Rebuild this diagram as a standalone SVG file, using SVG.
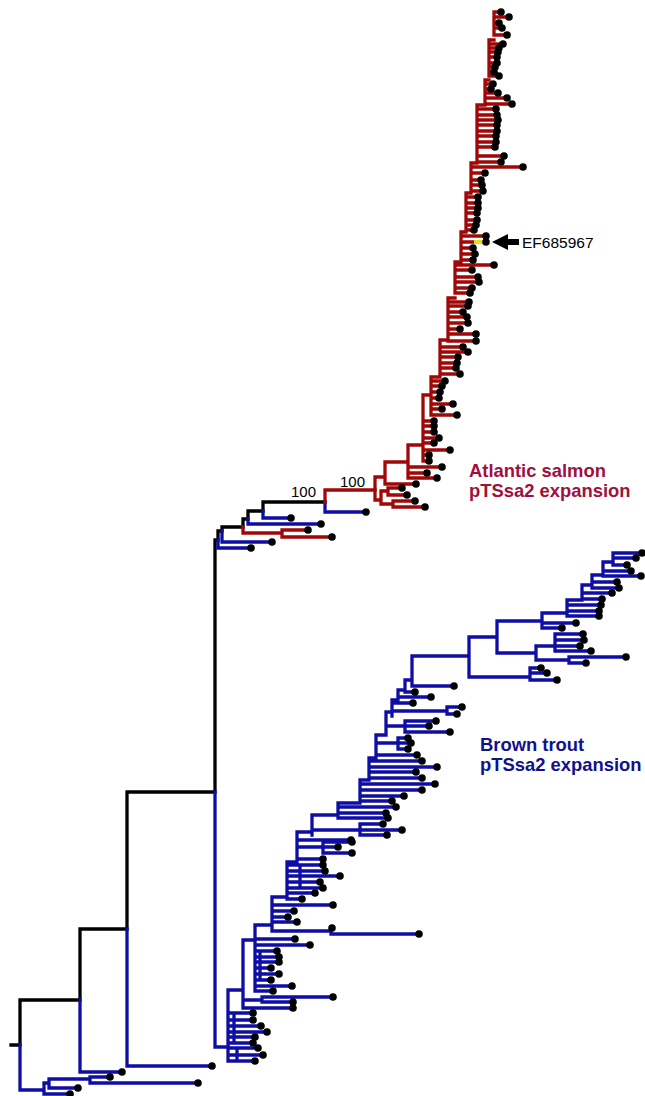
<svg xmlns="http://www.w3.org/2000/svg" width="645" height="1096" viewBox="0 0 645 1096">
<style>
.k,.r,.b,.y{fill:none;stroke-width:3.3;stroke-linecap:square;stroke-linejoin:miter}
.k{stroke:#000}
.r{stroke:#a00808}
.b{stroke:#0e0ea6}
.y{stroke:#e6dc1e;stroke-width:4;stroke-linecap:butt}
.d circle{fill:#000}
text{font-family:"Liberation Sans",Arial,sans-serif}
.lab{font-weight:bold;font-size:18.4px}
.sal{fill:#a0103e}
.tro{fill:#11118c}
.bs{font-size:15px;fill:#000}
</style>
<rect width="645" height="1096" fill="#fff"/>
<g id="connectors">
  <g id="backbone">
    <path class="k" d="M11 1045H20V1000H80V929H127V792H215V540H218V531H222V527H243V519H248V511H263V502H325"/>
  </g>
  <g id="basal-branches">
    <path class="b" d="M20 1045V1090H44 M44 1083V1094 M44 1083H49 M49 1079V1088 M49 1079H90 M90 1077V1083 M90 1077H110 M90 1083H198 M49 1088H78 M44 1094H70 M80 1000V1072H122 M127 929V1066H212 M215 792V1047H228 M218 540V548H251 M222 531V542H272 M248 519V524H321 M263 511V518H291 M325 502V512H366"/>
    <path class="r" d="M243 527V533H282 M282 530V537 M282 530H308 M282 537H332 M325 502V490H375"/>
  </g>
  <g id="salmon-branches">
    <path class="r" d="M375 477V500 M375 500H381 M381 491V504 M381 491H388 M388 488V495 M388 488H402 M388 495H407 M381 504H393 M393 501V507 M393 501H415 M393 507H425 M375 477H385
    M385 462V484 M385 484H416 M385 462H408
    M408 445V478 M408 467H442 M408 473H427 M408 478H437 M408 445H423
    M423 395V461 M423 421H434 M423 426H434 M423 432H434 M423 438H439 M423 443H434 M423 450H450 M423 455H429 M423 461H429 M423 395H431
    M431 377V415 M431 381H445 M431 386H442 M431 392H440 M431 398H439 M431 404H453 M431 409H442 M431 415H457 M431 377H440
    M440 340V374 M440 347H463 M440 352H468 M440 357H458 M440 363H457 M440 368H456 M440 374H460 M440 340H448
    M448 298V341 M448 302H469 M448 306H468 M448 312H463 M448 317H467 M448 323H468 M448 329H460 M448 334H476 M448 341H476 M448 298H455
    M455 262V293 M455 265H494 M455 270H472 M455 277H478 M455 282H479 M455 288H472 M455 293H470 M455 262H461
    M461 232V260 M461 236H486 M461 242H474 M461 248H473 M461 254H475 M461 260H473 M461 232H466
    M466 193V230 M466 197H478 M466 203H478 M466 208H478 M466 213H477 M466 220H477 M466 225H476 M466 230H474 M466 193H471
    M471 163V191 M471 167H523 M471 173H485 M471 180H481 M471 185H482 M471 191H483 M471 163H477
    M477 105V162 M477 109H496 M477 115H497 M477 120H498 M477 125H497 M477 131H497 M477 136H496 M477 142H496 M477 147H495 M477 156H504 M477 162H501 M477 105H485
    M485 80V104 M485 84H493 M485 89H491 M485 93H498 M485 98H507 M485 104H512 M485 80H489
    M489 40V76 M489 44H503 M489 48H499 M489 52H498 M489 57H497 M489 63H497 M489 67H495 M489 72H494 M489 76H499 M489 40H494
    M494 12V35 M494 12H501 M494 17H509 M494 23H499 M494 28H502 M494 35H507"/>
    <path class="y" d="M474 242H484"/>
  </g>
  <g id="trout-branches">
    <path class="b" d="M228 990V1061 M228 1013H253 M228 1020H253 M228 1026H261 M228 1032H267 M228 1037H255 M228 1043H253 M228 1048H258 M228 1055H263 M228 1061H255 M234 1013V1043 M237 1048V1061 M228 990H243
    M243 940V1008 M243 1000H262 M262 997V1002 M262 997H333 M262 1002H293 M243 1008H293 M243 940H255
    M255 925V991 M255 939H295 M255 945H310 M255 951H277 M255 957H279 M255 962H279 M255 968H271 M255 974H279 M255 980H271 M255 986H292 M255 991H273 M260 951V980 M255 925H272
    M272 897V931 M272 905H333 M272 911H294 M272 917H288 M272 922H297 M272 931H331 M331 928V934 M331 934H419 M272 897H287
    M287 862V899 M287 865H323 M287 871H325 M287 876H340 M287 882H320 M287 888H323 M287 893H315 M287 899H302 M300 865V888 M287 862H297
    M297 832V859 M297 859H323 M297 847H323 M323 842V853 M323 842H352 M323 847H338 M323 853H352 M297 840H351 M297 832H312
    M312 815V835 M312 830H360 M360 824V835 M360 824H383 M360 830H402 M360 835H387 M312 815H338
    M338 803V818 M338 807H396 M338 813H386 M338 818H388 M338 803H360
    M360 780V801 M360 784H435 M360 790H422 M360 796H404 M360 801H392 M360 780H369
    M369 758V778 M369 761H422 M369 767H437 M369 772H416 M369 778H422 M369 758H376
    M376 735V755 M376 755H417 M376 743H398 M398 738V749 M398 738H408 M398 743H411 M398 749H408 M376 735H386
    M386 712V735 M386 726H405 M405 721V732 M405 721H436 M405 726H429 M405 732H450 M386 712H392
    M392 700V716 M392 703H413 M392 711H447 M447 707V714 M447 707H462 M447 714H457 M392 700H398
    M398 690V703 M398 697H431 M398 690H405
    M405 680V692 M405 692H415 M405 680H412
    M412 656V686 M412 686H454 M412 656H469
    M469 637V677 M469 677H530 M530 668V680 M530 668H541 M530 673H547 M530 680H557 M469 637H497
    M497 621V653 M497 653H536 M536 646V660 M536 646H555 M555 634V651 M555 634H583 M555 640H584 M555 646H580 M555 651H591 M536 660H569 M569 657V663 M569 657H626 M569 663H586 M497 621H542
    M542 613V628 M542 623H576 M542 628H562 M542 613H567
    M567 600V616 M567 605H601 M567 611H599 M567 616H599 M567 600H582
    M582 585V599 M582 593H612 M582 599H602 M582 585H592
    M592 575V588 M592 582H617 M592 588H619 M592 575H603
    M603 562V576 M603 571H631 M603 576H641 M603 562H613
    M613 553V565 M613 553H642 M613 558H636 M613 565H627"/>
  </g>
</g>
<g id="leaves" class="d">
  <g id="basal-leaves">
    <circle cx="110" cy="1077" r="3.8"/><circle cx="198" cy="1083" r="3.8"/><circle cx="78" cy="1088" r="3.8"/><circle cx="70" cy="1094" r="3.8"/><circle cx="122" cy="1072" r="3.8"/><circle cx="212" cy="1066" r="3.8"/><circle cx="251" cy="548" r="3.8"/><circle cx="272" cy="542" r="3.8"/><circle cx="321" cy="524" r="3.8"/><circle cx="291" cy="518" r="3.8"/><circle cx="366" cy="512" r="3.8"/><circle cx="308" cy="530" r="3.8"/><circle cx="332" cy="537" r="3.8"/>
  </g>
  <g id="salmon-leaves">
    <circle cx="402" cy="488" r="3.8"/><circle cx="407" cy="495" r="3.8"/><circle cx="415" cy="501" r="3.8"/><circle cx="425" cy="507" r="3.8"/><circle cx="416" cy="484" r="3.8"/><circle cx="442" cy="467" r="3.8"/><circle cx="427" cy="473" r="3.8"/><circle cx="437" cy="478" r="3.8"/>
    <circle cx="434" cy="421" r="3.8"/><circle cx="434" cy="426" r="3.8"/><circle cx="434" cy="432" r="3.8"/><circle cx="439" cy="438" r="3.8"/><circle cx="434" cy="443" r="3.8"/><circle cx="450" cy="450" r="3.8"/><circle cx="429" cy="455" r="3.8"/><circle cx="429" cy="461" r="3.8"/>
    <circle cx="445" cy="381" r="3.8"/><circle cx="442" cy="386" r="3.8"/><circle cx="440" cy="392" r="3.8"/><circle cx="439" cy="398" r="3.8"/><circle cx="453" cy="404" r="3.8"/><circle cx="442" cy="409" r="3.8"/><circle cx="457" cy="415" r="3.8"/>
    <circle cx="463" cy="347" r="3.8"/><circle cx="468" cy="352" r="3.8"/><circle cx="458" cy="357" r="3.8"/><circle cx="457" cy="363" r="3.8"/><circle cx="456" cy="368" r="3.8"/><circle cx="460" cy="374" r="3.8"/>
    <circle cx="469" cy="302" r="3.8"/><circle cx="468" cy="306" r="3.8"/><circle cx="463" cy="312" r="3.8"/><circle cx="467" cy="317" r="3.8"/><circle cx="468" cy="323" r="3.8"/><circle cx="460" cy="329" r="3.8"/><circle cx="476" cy="334" r="3.8"/><circle cx="476" cy="341" r="3.8"/>
    <circle cx="494" cy="265" r="3.8"/><circle cx="472" cy="270" r="3.8"/><circle cx="478" cy="277" r="3.8"/><circle cx="479" cy="282" r="3.8"/><circle cx="472" cy="288" r="3.8"/><circle cx="470" cy="293" r="3.8"/>
    <circle cx="486" cy="236" r="3.8"/><circle cx="486" cy="242" r="3.8"/><circle cx="473" cy="248" r="3.8"/><circle cx="475" cy="254" r="3.8"/><circle cx="473" cy="260" r="3.8"/>
    <circle cx="478" cy="197" r="3.8"/><circle cx="478" cy="203" r="3.8"/><circle cx="478" cy="208" r="3.8"/><circle cx="477" cy="213" r="3.8"/><circle cx="477" cy="220" r="3.8"/><circle cx="476" cy="225" r="3.8"/><circle cx="474" cy="230" r="3.8"/>
    <circle cx="523" cy="167" r="3.8"/><circle cx="485" cy="173" r="3.8"/><circle cx="481" cy="180" r="3.8"/><circle cx="482" cy="185" r="3.8"/><circle cx="483" cy="191" r="3.8"/>
    <circle cx="496" cy="109" r="3.8"/><circle cx="497" cy="115" r="3.8"/><circle cx="498" cy="120" r="3.8"/><circle cx="497" cy="125" r="3.8"/><circle cx="497" cy="131" r="3.8"/><circle cx="496" cy="136" r="3.8"/><circle cx="496" cy="142" r="3.8"/><circle cx="495" cy="147" r="3.8"/><circle cx="504" cy="156" r="3.8"/><circle cx="501" cy="162" r="3.8"/>
    <circle cx="493" cy="84" r="3.8"/><circle cx="491" cy="89" r="3.8"/><circle cx="498" cy="93" r="3.8"/><circle cx="507" cy="98" r="3.8"/><circle cx="512" cy="104" r="3.8"/>
    <circle cx="503" cy="44" r="3.8"/><circle cx="499" cy="48" r="3.8"/><circle cx="498" cy="52" r="3.8"/><circle cx="497" cy="57" r="3.8"/><circle cx="497" cy="63" r="3.8"/><circle cx="495" cy="67" r="3.8"/><circle cx="494" cy="72" r="3.8"/><circle cx="499" cy="76" r="3.8"/>
    <circle cx="501" cy="12" r="3.8"/><circle cx="509" cy="17" r="3.8"/><circle cx="499" cy="23" r="3.8"/><circle cx="502" cy="28" r="3.8"/><circle cx="507" cy="35" r="3.8"/>
  </g>
  <g id="trout-leaves">
    <circle cx="253" cy="1013" r="3.8"/><circle cx="253" cy="1020" r="3.8"/><circle cx="261" cy="1026" r="3.8"/><circle cx="267" cy="1032" r="3.8"/><circle cx="255" cy="1037" r="3.8"/><circle cx="253" cy="1043" r="3.8"/><circle cx="258" cy="1048" r="3.8"/><circle cx="263" cy="1055" r="3.8"/><circle cx="255" cy="1061" r="3.8"/>
    <circle cx="333" cy="997" r="3.8"/><circle cx="293" cy="1002" r="3.8"/><circle cx="293" cy="1008" r="3.8"/>
    <circle cx="295" cy="939" r="3.8"/><circle cx="310" cy="945" r="3.8"/><circle cx="277" cy="951" r="3.8"/><circle cx="279" cy="957" r="3.8"/><circle cx="279" cy="962" r="3.8"/><circle cx="271" cy="968" r="3.8"/><circle cx="279" cy="974" r="3.8"/><circle cx="271" cy="980" r="3.8"/><circle cx="292" cy="986" r="3.8"/><circle cx="273" cy="991" r="3.8"/>
    <circle cx="333" cy="905" r="3.8"/><circle cx="294" cy="911" r="3.8"/><circle cx="288" cy="917" r="3.8"/><circle cx="297" cy="922" r="3.8"/><circle cx="332" cy="928" r="3.8"/><circle cx="419" cy="934" r="3.8"/>
    <circle cx="323" cy="865" r="3.8"/><circle cx="325" cy="871" r="3.8"/><circle cx="340" cy="876" r="3.8"/><circle cx="320" cy="882" r="3.8"/><circle cx="323" cy="888" r="3.8"/><circle cx="315" cy="893" r="3.8"/><circle cx="302" cy="899" r="3.8"/>
    <circle cx="323" cy="859" r="3.8"/><circle cx="352" cy="842" r="3.8"/><circle cx="338" cy="847" r="3.8"/><circle cx="352" cy="853" r="3.8"/><circle cx="351" cy="840" r="3.8"/>
    <circle cx="383" cy="824" r="3.8"/><circle cx="402" cy="830" r="3.8"/><circle cx="387" cy="835" r="3.8"/>
    <circle cx="396" cy="807" r="3.8"/><circle cx="386" cy="813" r="3.8"/><circle cx="388" cy="818" r="3.8"/>
    <circle cx="435" cy="784" r="3.8"/><circle cx="422" cy="790" r="3.8"/><circle cx="404" cy="796" r="3.8"/><circle cx="392" cy="801" r="3.8"/>
    <circle cx="422" cy="761" r="3.8"/><circle cx="437" cy="767" r="3.8"/><circle cx="416" cy="772" r="3.8"/><circle cx="422" cy="778" r="3.8"/>
    <circle cx="417" cy="755" r="3.8"/><circle cx="408" cy="738" r="3.8"/><circle cx="411" cy="743" r="3.8"/><circle cx="408" cy="749" r="3.8"/>
    <circle cx="436" cy="721" r="3.8"/><circle cx="429" cy="726" r="3.8"/><circle cx="450" cy="732" r="3.8"/>
    <circle cx="413" cy="703" r="3.8"/><circle cx="462" cy="707" r="3.8"/><circle cx="457" cy="714" r="3.8"/>
    <circle cx="431" cy="697" r="3.8"/><circle cx="415" cy="692" r="3.8"/><circle cx="454" cy="686" r="3.8"/>
    <circle cx="541" cy="668" r="3.8"/><circle cx="547" cy="673" r="3.8"/><circle cx="557" cy="680" r="3.8"/>
    <circle cx="583" cy="634" r="3.8"/><circle cx="584" cy="640" r="3.8"/><circle cx="580" cy="646" r="3.8"/><circle cx="591" cy="651" r="3.8"/><circle cx="626" cy="657" r="3.8"/><circle cx="586" cy="663" r="3.8"/>
    <circle cx="576" cy="623" r="3.8"/><circle cx="562" cy="628" r="3.8"/>
    <circle cx="601" cy="605" r="3.8"/><circle cx="599" cy="611" r="3.8"/><circle cx="599" cy="616" r="3.8"/>
    <circle cx="612" cy="593" r="3.8"/><circle cx="602" cy="599" r="3.8"/>
    <circle cx="617" cy="582" r="3.8"/><circle cx="619" cy="588" r="3.8"/>
    <circle cx="631" cy="571" r="3.8"/><circle cx="641" cy="576" r="3.8"/>
    <circle cx="642" cy="553" r="3.8"/><circle cx="636" cy="558" r="3.8"/><circle cx="627" cy="565" r="3.8"/>
  </g>
</g>
<g id="bootstrap-labels">
  <text class="bs" x="291" y="497">100</text>
  <text class="bs" x="340" y="487">100</text>
</g>
<g id="ef685967-marker">
  <polygon points="492,242 508,234 508,239 519,239 519,245 508,245 508,250" fill="#000"/>
  <text x="522" y="248" font-size="15.5" fill="#000">EF685967</text>
</g>
<g id="salmon-label">
  <text class="lab sal" x="469" y="477">Atlantic salmon</text>
  <text class="lab sal" x="469" y="497">pTSsa2 expansion</text>
</g>
<g id="trout-label">
  <text class="lab tro" x="480" y="751">Brown trout</text>
  <text class="lab tro" x="480" y="771">pTSsa2 expansion</text>
</g>
</svg>
